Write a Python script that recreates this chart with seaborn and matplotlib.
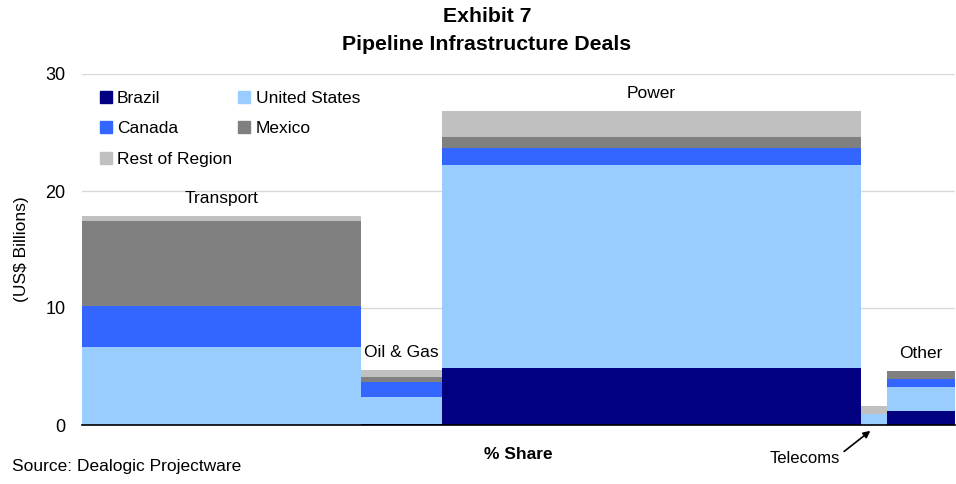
import numpy as np
import pandas as pd
import matplotlib
matplotlib.use("Agg")
import matplotlib.pyplot as plt
import matplotlib.patches as mpatches
import seaborn as sns

# ---- data ----
sectors = ["Transport", "Oil & Gas", "Power", "Telecoms", "Other"]
share = [32.0, 9.2, 48.0, 3.0, 7.8]          # % share (bar widths)
brazil = [0.0, 0.12, 4.9, 0.0, 1.2]
united_states = [6.7, 2.3, 17.3, 0.95, 2.05]
canada = [3.45, 1.25, 1.5, 0.0, 0.65]
mexico = [7.3, 0.4, 0.9, 0.0, 0.7]
rest_of_region = [0.45, 0.65, 2.25, 0.65, 0.0]
countries = ["Brazil", "United States", "Canada", "Mexico", "Rest of Region"]
colors = ["#000080", "#99CCFF", "#3366FF", "#808080", "#C0C0C0"]
yticks = [0, 10, 20, 30]

series = {"Brazil": brazil, "United States": united_states, "Canada": canada,
          "Mexico": mexico, "Rest of Region": rest_of_region}
edges = [0.0] + list(np.cumsum(share))
centers = [(edges[i] + edges[i + 1]) / 2 for i in range(len(share))]

rows = []
for c in countries:
    for i, s in enumerate(sectors):
        rows.append({"sector": s, "x": centers[i], "country": c, "value": series[c][i]})
df = pd.DataFrame(rows)

sns.set_style("white")
plt.rcParams["font.family"] = ["Liberation Sans", "DejaVu Sans"]
plt.rcParams["text.color"] = "black"
plt.rcParams["axes.labelcolor"] = "black"
plt.rcParams["xtick.color"] = "black"
plt.rcParams["ytick.color"] = "black"

fig = plt.figure(figsize=(9.56, 4.84), dpi=100)
ax = fig.add_axes([82 / 956, 1 - 425 / 484, (955 - 82) / 956, (425 - 74) / 484])

palette = dict(zip(countries, colors))
sns.histplot(data=df, x="x", weights="value", hue="country",
             hue_order=countries[::-1], palette=palette, bins=[float(e) for e in edges],
             multiple="stack", element="bars", fill=True, alpha=1,
             linewidth=0, legend=False, ax=ax)

ax.set_xlim(edges[0], edges[-1])
ax.set_ylim(0, 30)
ax.set_yticks(yticks)
ax.set_xticks([])
ax.yaxis.grid(True, color="#D9D9D9", linewidth=1)
ax.set_axisbelow(True)
for sp in ["left", "top", "right"]:
    ax.spines[sp].set_visible(False)
ax.spines["bottom"].set_color("black")
ax.spines["bottom"].set_linewidth(1.2)
ax.tick_params(axis="y", length=0, pad=12, labelsize=13)
ax.set_ylabel("(US$ Billions)", fontsize=12.5, labelpad=12)
ax.set_xlabel("% Share", fontsize=12.5, fontweight="bold", labelpad=16)

totals = np.sum([series[c] for c in countries], axis=0)
for i, s in enumerate(sectors):
    if s == "Telecoms":
        ax.annotate("Telecoms", xy=(centers[i] - 0.4, -0.5), xycoords="data",
                    xytext=(-22, -20), textcoords="offset points",
                    ha="right", va="center", fontsize=12,
                    arrowprops=dict(arrowstyle="-|>", color="black", lw=1.2,
                                    relpos=(1.0, 0.75), shrinkA=1, shrinkB=0,
                                    mutation_scale=10),
                    annotation_clip=False)
    else:
        ax.annotate(s, xy=(centers[i], totals[i]), xytext=(0, 7),
                    textcoords="offset points", ha="center", va="bottom",
                    fontsize=12.5)

handles = [mpatches.Patch(color=palette[c], label=c) for c in countries]
order = [0, 2, 4, 1, 3]
leg = fig.legend([handles[k] for k in order], [countries[k] for k in order],
                 ncol=2, loc="upper left", bbox_to_anchor=(91 / 956, 1 - 82 / 484),
                 frameon=False, fontsize=12.5, handlelength=0.7, handleheight=0.7,
                 handletextpad=0.3, columnspacing=0.35, labelspacing=0.88,
                 borderpad=0)

fig.text(487 / 956, 1 - 17 / 484, "Exhibit 7", ha="center", va="center",
         fontsize=15.3, fontweight="bold")
fig.text(487 / 956, 1 - 45 / 484, "Pipeline Infrastructure Deals", ha="center",
         va="center", fontsize=15.3, fontweight="bold")
fig.text(12 / 956, 1 - 467 / 484, "Source: Dealogic Projectware", ha="left",
         va="center", fontsize=12.5)

fig.savefig("out.png", dpi=100)
